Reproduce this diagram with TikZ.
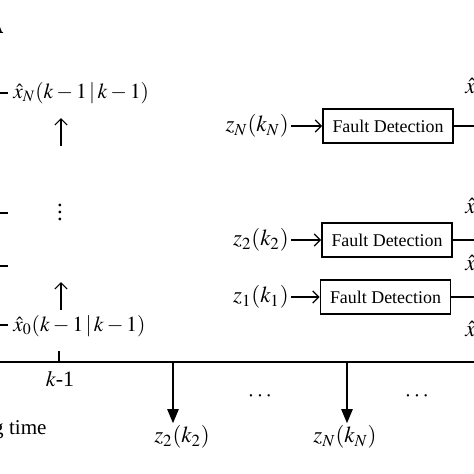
\documentclass[tikz,border=0pt]{standalone}
\usepackage{mathptmx}
\usepackage{fontspec}
\setmainfont{Liberation Serif}
\usepackage{tikz}
\usepgflibrary{arrows.meta}

\begin{document}
\begin{tikzpicture}[x=0.02cm, y=-0.02cm, line width=0.7pt,
		>={Straight Barb[length=3.5pt,width=7pt]},
		lbl/.style={inner sep=1pt, font=\fontsize{13}{15}\selectfont},
		est/.style={inner sep=1pt, anchor=west, font=\fontsize{12.2}{14}\selectfont},
		fd/.style={draw, line width=0.9pt, inner sep=1pt, minimum width=2.6cm, minimum height=0.68cm, font=\fontsize{10.2}{12}\selectfont},
		tri/.style={-{Triangle[length=8pt,width=6.5pt]}}]
		\useasboundingbox (0,0) rectangle (474,474);
		\clip (0,0) rectangle (474,474);
		\node (PA) [anchor=base east, inner sep=0pt, font=\fontsize{14}{16}\selectfont\bfseries] at (4,33) {A};
		
		% estimates at k-1
		\node (XN) [est] at (11,93) {$\hat{x}_N(k-1\,|\,k-1)$};
		\node (VD) [lbl] at (60,207) {$\vdots$};
		\node (X0) [est] at (11,326) {$\hat{x}_0(k-1\,|\,k-1)$};
		\coordinate (UNb) at (61,146);
		\coordinate (UNt) at (61,118);
		\coordinate (U0b) at (61,310);
		\coordinate (U0t) at (61,282);
		\draw [->] (UNb) -- (UNt);
		\draw [->] (U0b) -- (U0t);
		\coordinate (LN) at (-5,93);
		\coordinate (LNe) at (8,93);
		\coordinate (LA) at (-5,213);
		\coordinate (LAe) at (8,213);
		\coordinate (LB) at (-5,266);
		\coordinate (LBe) at (8,266);
		\coordinate (L0) at (-5,325);
		\coordinate (L0e) at (8,325);
		\draw (LN) -- (LNe);
		\draw (LA) -- (LAe);
		\draw (LB) -- (LBe);
		\draw (L0) -- (L0e);
		
		% time axis
		\coordinate (TL) at (-5,362);
		\coordinate (TR) at (480,362);
		\draw [line width=0.8pt] (TL) -- (TR);
		\coordinate (TK) at (59,351);
		\draw (TK) -- (TK |- TL);
		\node (K1) [font=\fontsize{12.5}{14}\selectfont] at (60,379) {$k$-1};
		\node (ST) [anchor=base east, font=\fontsize{12}{14}\selectfont] at (53,434) {g time};
		\node (Z2B) [lbl] at (182,437) {$z_2(k_2)$};
		\node (ZNB) [lbl] at (345,437) {$z_N(k_N)$};
		\coordinate (D2) at (173,362);
		\coordinate (DN) at (347,362);
		\draw [tri] (D2) -- (D2 |- Z2B.north);
		\draw [tri] (DN) -- (DN |- ZNB.north);
		\node (DT1) [lbl] at (260,397) {$\cdots$};
		\node (DT2) [lbl] at (417,397) {$\cdots$};
		
		% fault detection blocks
		\node (FDN) [fd] at (388,126) {Fault Detection};
		\node (FD2) [fd] at (387,240) {Fault Detection};
		\node (FD1) [fd] at (385.5,297) {Fault Detection};
		\node (ZN) [lbl, anchor=east] at (291,126) {$z_N(k_N)$};
		\node (Z2) [lbl, anchor=east] at (291,240) {$z_2(k_2)$};
		\node (Z1) [lbl, anchor=east] at (291,297) {$z_1(k_1)$};
		\draw [->] (ZN) -- (FDN);
		\draw [->] (Z2) -- (FD2);
		\draw [->] (Z1) -- (FD1);
		\coordinate (ON) at (480,126);
		\coordinate (O2) at (480,240);
		\coordinate (O1) at (480,297);
		\draw (FDN) -- (ON);
		\draw (FD2) -- (O2);
		\draw (FD1) -- (O1);
		\node (XHN) [lbl, anchor=west] at (463,88) {$\hat{x}_N$};
		\node (XH2) [lbl, anchor=west] at (463,208) {$\hat{x}_2$};
		\node (XH1) [lbl, anchor=west] at (463,265) {$\hat{x}_1$};
		\node (XH0) [lbl, anchor=west] at (463,331) {$\hat{x}_0$};
\end{tikzpicture}
\end{document}
